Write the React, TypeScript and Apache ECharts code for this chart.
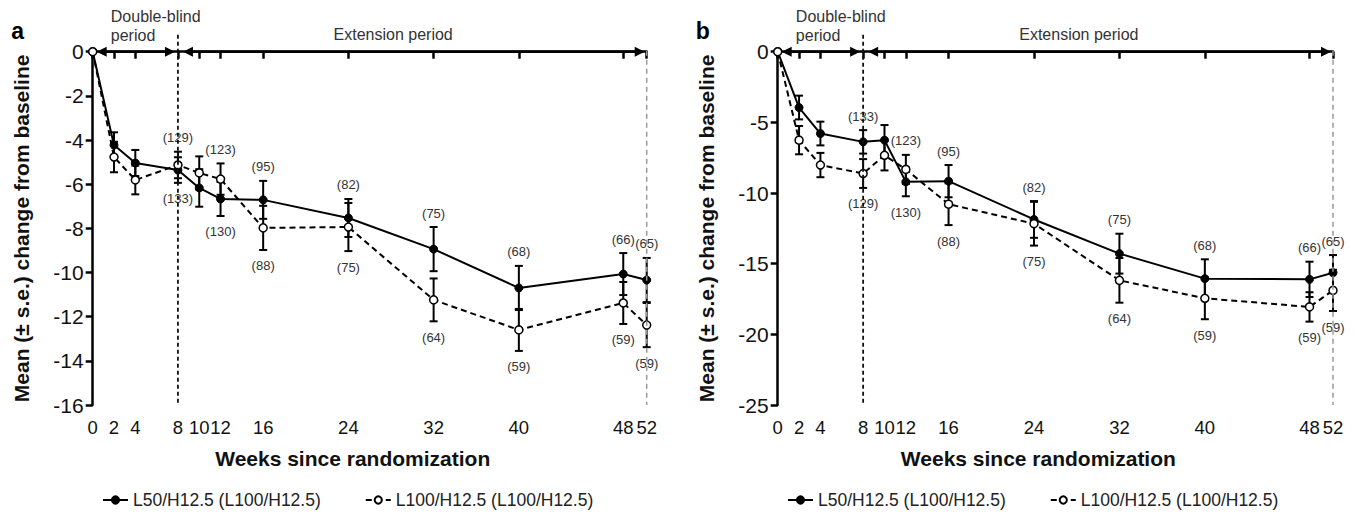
import React, { useEffect, useRef } from 'react';
import * as echarts from 'echarts';

// ---- data ----
const weekTickLabels = ['0', '2', '4', '8', '10', '12', '16', '24', '32', '40', '48', '52'];
// x at which each visit is plotted in the original (the "48" visit sits near week 49.8)
const visitX = [0, 2, 4, 8, 10, 12, 16, 24, 32, 40, 49.8, 52];

const seriesNames = ['L50/H12.5 (L100/H12.5)', 'L100/H12.5 (L100/H12.5)'];

const nSolid = [null, null, null, 133, null, 130, 95, 82, 75, 68, 66, 65];
const nDash = [null, null, null, 129, null, 123, 88, 75, 64, 59, 59, 59];

// Panel a
const aSolidMean = [0, -4.23, -5.04, -5.36, -6.17, -6.67, -6.71, -7.53, -8.94, -10.7, -10.07, -10.34];
const aSolidSe = [0, 0.58, 0.59, 0.58, 0.85, 0.77, 0.86, 0.86, 1.0, 1.0, 0.95, 1.0];
const aDashMean = [0, -4.77, -5.81, -5.13, -5.49, -5.77, -7.98, -7.94, -11.24, -12.6, -11.38, -12.38];
const aDashSe = [0, 0.69, 0.65, 0.6, 0.75, 0.71, 1.0, 1.09, 0.97, 0.95, 0.95, 1.0];

// Panel b
const bSolidMean = [0, -3.95, -5.79, -6.38, -6.26, -9.21, -9.16, -11.87, -14.29, -16.06, -16.11, -15.64];
const bSolidSe = [0, 0.84, 0.84, 0.83, 1.07, 1.02, 1.14, 1.3, 1.41, 1.37, 1.25, 1.25];
const bDashMean = [0, -6.26, -8.02, -8.62, -7.33, -8.33, -10.79, -12.17, -16.18, -17.45, -18.06, -16.89];
const bDashSe = [0, 1.0, 0.86, 1.02, 1.07, 1.03, 1.48, 1.55, 1.58, 1.48, 1.04, 1.46];

const yTitle = 'Mean (± s.e.) change from baseline';
const xTitle = 'Weeks since randomization';

const FONT = '"Liberation Sans", Arial, Helvetica, sans-serif';

const panels = [
  { letter: 'a', solidMean: aSolidMean, solidSe: aSolidSe, dashMean: aDashMean, dashSe: aDashSe, yMin: -16, yInterval: 2,
    grid: { left: 92.7, top: 51.7, width: 554, height: 353.3 } },
  { letter: 'b', solidMean: bSolidMean, solidSe: bSolidSe, dashMean: bDashMean, dashSe: bDashSe, yMin: -25, yInterval: 5,
    grid: { left: 777.7, top: 51.7, width: 555.3, height: 353.3 } },
];

function errRender(params: any, api: any) {
  const x = api.value(0), m = api.value(1), s = api.value(2);
  const t = api.coord([x, m + s]);
  const b = api.coord([x, m - s]);
  const cw = 4;
  const st = { stroke: '#000', lineWidth: 2 };
  return {
    type: 'group',
    children: [
      { type: 'line', shape: { x1: t[0], y1: t[1], x2: b[0], y2: b[1] }, style: st },
      { type: 'line', shape: { x1: t[0] - cw, y1: t[1], x2: t[0] + cw, y2: t[1] }, style: st },
      { type: 'line', shape: { x1: b[0] - cw, y1: b[1], x2: b[0] + cw, y2: b[1] }, style: st },
    ],
  };
}

function labelRender(params: any, api: any) {
  const x = api.value(0), anchor = api.value(1), n = api.value(2), side = api.value(3);
  const p = api.coord([x, anchor]);
  const y = side > 0 ? p[1] - 14 : p[1] + 16;
  return {
    type: 'text',
    x: p[0],
    y,
    style: {
      text: '(' + n + ')',
      fill: '#333',
      font: '13px ' + FONT,
      textAlign: 'center',
      textVerticalAlign: 'middle',
      align: 'center',
      verticalAlign: 'middle',
    },
  };
}

export default function App() {
  const ref = useRef<HTMLDivElement>(null);
  useEffect(() => {
    if (!ref.current) return;
    const chart = echarts.init(ref.current, null, { renderer: 'svg' });
    const grids: any[] = [];
    const xAxes: any[] = [];
    const yAxes: any[] = [];
    const series: any[] = [];
    const legends: any[] = [];

    panels.forEach((pn, i) => {
      grids.push({ ...pn.grid, containLabel: false });
      xAxes.push({
        type: 'value', gridIndex: i, min: 0, max: 52,
        axisLine: { lineStyle: { color: '#000', width: 2.5 } },
        axisTick: { show: true, length: 7, lineStyle: { color: '#000', width: 2.5 }, customValues: visitX },
        axisLabel: {
          customValues: visitX, margin: 13, fontSize: 18.5, color: '#111', fontFamily: FONT,
          formatter: (v: number) => {
            const k = visitX.findIndex((w) => Math.abs(w - v) < 1e-6);
            return k >= 0 ? weekTickLabels[k] : '';
          },
        },
        splitLine: { show: false },
      });
      yAxes.push({
        type: 'value', gridIndex: i, min: pn.yMin, max: 0, interval: pn.yInterval,
        axisLine: { show: true, lineStyle: { color: '#000', width: 2.5 } },
        axisTick: { show: true, length: 7, lineStyle: { color: '#000', width: 2.5 } },
        axisLabel: { margin: 9, fontSize: 21, color: '#111', fontFamily: FONT },
        splitLine: { show: false },
      });

      const groups = [
        { mean: pn.solidMean, se: pn.solidSe, other: pn.dashMean, n: nSolid, dashed: false },
        { mean: pn.dashMean, se: pn.dashSe, other: pn.solidMean, n: nDash, dashed: true },
      ];
      groups.forEach((g) => {
        series.push({
          type: 'custom', xAxisIndex: i, yAxisIndex: i, z: 1, clip: false, silent: true,
          renderItem: errRender,
          encode: { x: 0, y: 1 },
          data: visitX.map((x, k) => [x, g.mean[k], g.se[k]]).filter((d) => d[2] > 0),
        });
      });
      groups.forEach((g, gi) => {
        series.push({
          type: 'line', name: seriesNames[gi], xAxisIndex: i, yAxisIndex: i, z: 3,
          data: visitX.map((x, k) => [x, g.mean[k]]),
          symbol: 'circle', symbolSize: 8,
          itemStyle: g.dashed
            ? { color: '#fff', borderColor: '#000', borderWidth: 1.5 }
            : { color: '#000', borderColor: '#000', borderWidth: 1 },
          lineStyle: { color: '#000', width: 2, type: g.dashed ? [6, 4] : 'solid' },
        });
      });
      groups.forEach((g) => {
        const data: any[] = [];
        visitX.forEach((x, k) => {
          if (g.n[k] == null) return;
          const above = g.mean[k] >= g.other[k];
          data.push([x, above ? g.mean[k] + g.se[k] : g.mean[k] - g.se[k], g.n[k], above ? 1 : -1]);
        });
        series.push({
          type: 'custom', xAxisIndex: i, yAxisIndex: i, z: 4, clip: false, silent: true,
          renderItem: labelRender, encode: { x: 0, y: 1 }, data,
        });
      });

      legends.push({
        data: seriesNames, left: i === 0 ? 97 : 782, top: 486,
        itemWidth: 25, itemHeight: 9, itemGap: 44,
        textStyle: { fontSize: 17.5, color: '#222', fontFamily: FONT },
        selectedMode: false,
      });
    });

    chart.setOption({
      animation: false,
      backgroundColor: '#fff',
      textStyle: { fontFamily: FONT },
      grid: grids, xAxis: xAxes, yAxis: yAxes, series, legend: legends,
    });

    const graphics: any[] = [];
    const arrow = (xa: number, xb: number, y: number) => {
      const h = 10, w = 5;
      graphics.push({ type: 'line', z: 100, shape: { x1: xa + 6, y1: y, x2: xb - 6, y2: y }, style: { stroke: '#000', lineWidth: 2.6 } });
      graphics.push({ type: 'polygon', z: 100, shape: { points: [[xa, y], [xa + h, y - w], [xa + h, y + w]] }, style: { fill: '#000' } });
      graphics.push({ type: 'polygon', z: 100, shape: { points: [[xb, y], [xb - h, y - w], [xb - h, y + w]] }, style: { fill: '#000' } });
    };
    const txt = (text: string, x: number, y: number, size: number, opts: any = {}) => {
      graphics.push({
        type: 'text', z: 100, x, y, rotation: opts.rotation || 0,
        style: {
          text, fill: opts.fill || '#222', font: (opts.bold ? 'bold ' : '') + size + 'px ' + FONT,
          textAlign: opts.align || 'left', textVerticalAlign: 'middle',
          align: opts.align || 'left', verticalAlign: 'middle',
        },
      });
    };

    panels.forEach((pn, i) => {
      const P = (x: number, y: number) => chart.convertToPixel({ gridIndex: i }, [x, y]) as number[];
      const [x0, y0] = P(0, 0);
      const [x8] = P(8, 0);
      const [x52] = P(52, 0);
      const [, yBot] = P(0, pn.yMin);
      graphics.push({ type: 'line', z: 90, shape: { x1: x8, y1: y0 - 17, x2: x8, y2: yBot }, style: { stroke: '#111', lineWidth: 1.8, lineDash: [4, 3] } });
      graphics.push({ type: 'line', z: 90, shape: { x1: x52, y1: y0 - 1, x2: x52, y2: yBot }, style: { stroke: '#999', lineWidth: 1.5, lineDash: [5, 4] } });
      arrow(x0 + 4, x8 - 3, y0);
      arrow(x8 + 5, x52 - 2, y0);
      const [xdb] = P(1.7, 0);
      txt('Double-blind', xdb, y0 - 35.5, 16, { fill: '#333' });
      txt('period', xdb, y0 - 16.5, 16, { fill: '#333' });
      const [xe] = P(28.2, 0);
      txt('Extension period', xe, y0 - 17, 16, { fill: '#333', align: 'center' });
      const cx = pn.grid.left + pn.grid.width / 2 - 17;
      txt(xTitle, cx, 458, 21, { bold: true, fill: '#111', align: 'center' });
      const cy = (y0 + yBot) / 2;
      txt(yTitle, pn.grid.left - 71, cy, 21, { bold: true, fill: '#111', align: 'center', rotation: Math.PI / 2 });
      txt(pn.letter, pn.grid.left - 75, 31, 23, { bold: true, fill: '#000', align: 'center' });
    });

    chart.setOption({ graphic: { elements: graphics } });

    return () => chart.dispose();
  }, []);

  return <div ref={ref} style={{ position: 'fixed', left: 0, top: 0, width: 1354, height: 517 }} />;
}
